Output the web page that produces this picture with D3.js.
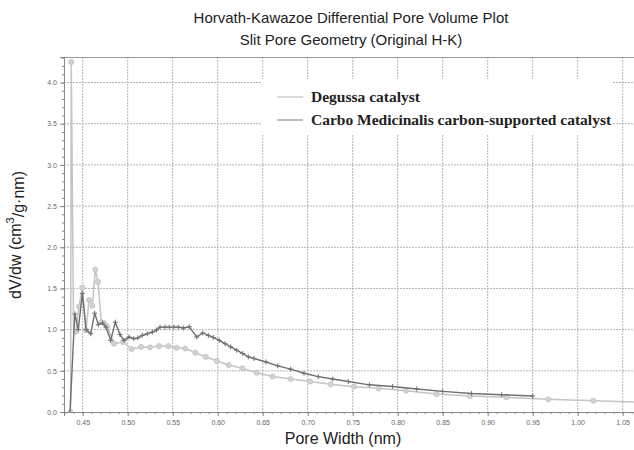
<!DOCTYPE html>
<html>
<head>
<meta charset="utf-8">
<script src="https://cdn.jsdelivr.net/npm/d3@7"></script>
<style>
  body { margin: 0; background: #fff; }
  svg { display: block; }
</style>
</head>
<body>
<div id="chart"></div>
<script>
// 数据：估计值
const degussaWidth = [0.4365, 0.4373, 0.4398, 0.4422, 0.4459, 0.4496, 0.4537, 0.457, 0.4607, 0.464, 0.467,
  0.4707, 0.4737, 0.477, 0.4848, 0.4948, 0.5044, 0.5148, 0.5248, 0.5348, 0.5451, 0.5544, 0.564,
  0.5751, 0.5867, 0.5989, 0.6122, 0.6274, 0.6433, 0.6611, 0.6811, 0.7026, 0.7256, 0.7514, 0.7789,
  0.8092, 0.8433, 0.8803, 0.9211, 0.9674, 1.0174, 1.075];
const degussaDv = [0.0, 4.25, 1.0, 0.975, 1.28, 1.51, 0.99, 1.36, 1.29, 1.73, 1.58,
  1.09, 1.08, 1.04, 0.83, 0.85, 0.765, 0.79, 0.785, 0.80, 0.80, 0.78, 0.77,
  0.72, 0.67, 0.62, 0.57, 0.53, 0.477, 0.43, 0.40, 0.37, 0.336, 0.307, 0.287,
  0.259, 0.218, 0.194, 0.178, 0.154, 0.137, 0.118];

const carboWidth = [0.4359, 0.4403, 0.4414, 0.4451, 0.4496, 0.4537, 0.4589, 0.4633, 0.4673, 0.4722, 0.4759,
  0.4811, 0.4862, 0.4914, 0.4959, 0.5014, 0.5067, 0.5114, 0.5162, 0.5218, 0.5273, 0.5318, 0.5359,
  0.5414, 0.5462, 0.5514, 0.5562, 0.5618, 0.5684, 0.5767, 0.5833, 0.5896, 0.5951, 0.6018, 0.6081,
  0.6144, 0.6211, 0.6278, 0.634, 0.6403, 0.6537, 0.6667, 0.6811, 0.6959, 0.7118, 0.7278, 0.7451,
  0.7685, 0.7944, 0.8211, 0.85, 0.8822, 0.9156, 0.95];
const carboDv = [0.0, 1.0, 1.19, 1.0, 1.44, 1.0, 0.95, 1.2, 1.06, 1.08, 1.03,
  0.87, 1.09, 0.94, 0.87, 0.91, 0.89, 0.90, 0.93, 0.95, 0.97, 0.995, 1.03,
  1.03, 1.03, 1.03, 1.03, 1.02, 1.035, 0.91, 0.96, 0.93, 0.905, 0.87, 0.83,
  0.79, 0.75, 0.71, 0.67, 0.65, 0.607, 0.56, 0.52, 0.47, 0.43, 0.40, 0.37,
  0.33, 0.31, 0.28, 0.25, 0.225, 0.21, 0.194];

const xTicks = [0.45, 0.50, 0.55, 0.60, 0.65, 0.70, 0.75, 0.80, 0.85, 0.90, 0.95, 1.00, 1.05];
const yTicks = [0.0, 0.5, 1.0, 1.5, 2.0, 2.5, 3.0, 3.5, 4.0];
const legendLabels = ['Degussa catalyst', 'Carbo Medicinalis carbon-supported catalyst'];

// 布局
const W = 634, H = 450;
const margin = { top: 57, right: 0, bottom: 38, left: 64 };
const iw = W - margin.left - margin.right;
const ih = H - margin.top - margin.bottom;

const lightColor = '#c4c4c4';
const darkColor = '#6f6f6f';

const svg = d3.select('#chart').append('svg')
  .attr('width', W).attr('height', H);

const x = d3.scaleLinear().domain([0.4292, 1.0626]).range([0, iw]);
const y = d3.scaleLinear().domain([0, 4.31]).range([ih, 0]);

const g = svg.append('g').attr('transform', `translate(${margin.left},${margin.top})`);

// 标题
svg.append('text')
  .attr('x', 351).attr('y', 23)
  .attr('text-anchor', 'middle')
  .style('font', '15px "Liberation Sans", Arial, sans-serif')
  .style('fill', '#222')
  .text('Horvath-Kawazoe Differential Pore Volume Plot');
svg.append('text')
  .attr('x', 351).attr('y', 45)
  .attr('text-anchor', 'middle')
  .style('font', '15px "Liberation Sans", Arial, sans-serif')
  .style('fill', '#222')
  .text('Slit Pore Geometry (Original H-K)');

// 网格线
g.append('g').selectAll('line')
  .data(xTicks)
  .enter().append('line')
  .attr('x1', d => x(d)).attr('x2', d => x(d))
  .attr('y1', 0).attr('y2', ih)
  .style('stroke', '#b3b3b3')
  .style('stroke-dasharray', '2,1');
g.append('g').selectAll('line')
  .data(yTicks.slice(1))
  .enter().append('line')
  .attr('x1', 0).attr('x2', iw)
  .attr('y1', d => y(d)).attr('y2', d => y(d))
  .style('stroke', '#b3b3b3')
  .style('stroke-dasharray', '2,1');

// 顶部边框
g.append('line')
  .attr('x1', 0).attr('x2', iw).attr('y1', 0.5).attr('y2', 0.5)
  .style('stroke', '#999');

// 坐标轴
const xMinor = d3.range(43, 107).map(i => i / 100);
const yMinor = d3.range(0, 44).map(i => i / 10);

const xAxisG = g.append('g').attr('transform', `translate(0,${ih})`);
xAxisG.call(d3.axisBottom(x).tickValues(xMinor).tickSize(2).tickFormat(''));
xAxisG.append('g').call(d3.axisBottom(x).tickValues(xTicks).tickSize(4).tickFormat(d3.format('.2f')));

const yAxisG = g.append('g');
yAxisG.call(d3.axisLeft(y).tickValues(yMinor).tickSize(2).tickFormat(''));
yAxisG.append('g').call(d3.axisLeft(y).tickValues(yTicks).tickSize(4).tickFormat(d3.format('.1f')));

svg.selectAll('.domain').style('stroke', '#888');
svg.selectAll('.tick line').style('stroke', '#888');
svg.selectAll('.tick text')
  .style('font-family', '"Liberation Sans", Arial, sans-serif')
  .style('font-size', '7px')
  .style('fill', '#666');
xAxisG.selectAll('.tick text').attr('dy', '0.9em');

// 图例背景（遮盖网格）
g.append('rect')
  .attr('x', 261 - margin.left).attr('y', 79 - margin.top)
  .attr('width', 612 - 261).attr('height', 135 - 79)
  .style('fill', '#fff');

// 曲线
const clip = g.append('clipPath').attr('id', 'plotclip')
  .append('rect').attr('width', iw).attr('height', ih + 3).attr('y', -3);

const plot = g.append('g').attr('clip-path', 'url(#plotclip)');
const line = d3.line().x(d => x(d[0])).y(d => y(d[1]));

const degussa = degussaWidth.map((w, i) => [w, degussaDv[i]]);
const carbo = carboWidth.map((w, i) => [w, carboDv[i]]);

plot.append('path')
  .datum(degussa)
  .attr('d', line)
  .style('fill', 'none')
  .style('stroke', lightColor)
  .style('stroke-width', 1.5);

plot.selectAll('circle.deg')
  .data(degussa.slice(0, degussa.length - 1).filter((d, i) => i !== 2))
  .enter().append('circle')
  .attr('class', 'deg')
  .attr('cx', d => x(d[0])).attr('cy', d => y(d[1]))
  .attr('r', 2.6)
  .style('fill', '#d2d2d2')
  .style('stroke', lightColor)
  .style('stroke-width', 0.8);

plot.append('path')
  .datum(carbo)
  .attr('d', line)
  .style('fill', 'none')
  .style('stroke', darkColor)
  .style('stroke-width', 1.4);

plot.selectAll('path.cross')
  .data(carbo.slice(2))
  .enter().append('path')
  .attr('class', 'cross')
  .attr('transform', d => `translate(${x(d[0])},${y(d[1])})`)
  .attr('d', 'M-2.5,0H2.5M0,-2.5V2.5')
  .style('stroke', darkColor)
  .style('stroke-width', 1);

// 图例
const legend = svg.append('g');
const legendColors = [lightColor, '#9a9a9a'];
legendLabels.forEach((label, i) => {
  const ly = 97 + i * 23;
  legend.append('line')
    .attr('x1', 277).attr('x2', 303)
    .attr('y1', ly).attr('y2', ly)
    .style('stroke', legendColors[i])
    .style('stroke-width', 1.3);
  legend.append('text')
    .attr('x', 311).attr('y', ly + 5)
    .style('font', 'bold 15.5px "Liberation Serif", "Times New Roman", serif')
    .style('fill', '#222')
    .text(label);
});

// 轴标题
svg.append('text')
  .attr('x', 343).attr('y', 444)
  .attr('text-anchor', 'middle')
  .style('font', '16px "Liberation Sans", Arial, sans-serif')
  .style('fill', '#222')
  .text('Pore Width (nm)');

const yLab = svg.append('text')
  .attr('transform', 'translate(21,235) rotate(-90)')
  .attr('text-anchor', 'middle')
  .style('font', '16px "Liberation Sans", Arial, sans-serif')
  .style('fill', '#222');
yLab.append('tspan').text('dV/dw (cm');
yLab.append('tspan').attr('dy', '-0.6em').style('font-size', '11px').text('3');
yLab.append('tspan').attr('dy', '0.6em').text('/g·nm)');
</script>
</body>
</html>
